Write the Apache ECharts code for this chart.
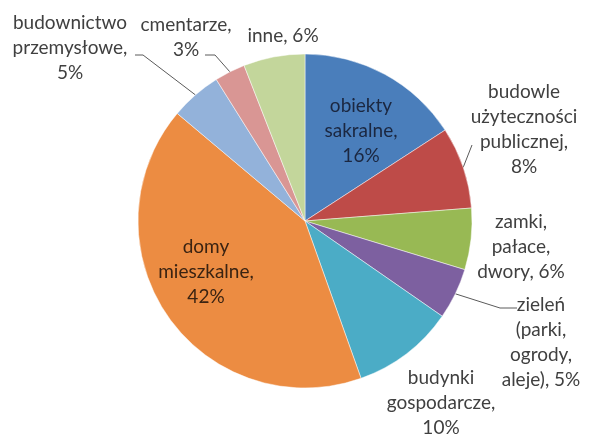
<!DOCTYPE html>
<html>
<head>
<meta charset="utf-8">
<script src="https://cdn.jsdelivr.net/npm/echarts@6/dist/echarts.min.js"></script>
<style>
  html, body { margin: 0; padding: 0; background: #ffffff; }
  #chart { width: 589px; height: 436px; }
</style>
</head>
<body>
<div id="chart"></div>
<script>
// Structure of monuments by type (share in %)
const categories = [
  'obiekty\nsakralne',
  'budowle\nużyteczności\npublicznej',
  'zamki,\npałace,\ndwory',
  'zieleń\n(parki,\nogrody,\naleje)',
  'budynki\ngospodarcze',
  'domy\nmieszkalne',
  'budownictwo\nprzemysłowe',
  'cmentarze',
  'inne'
];
const shares = [16, 8, 6, 5, 10, 42, 5, 3, 6];
// whether the percentage follows the name on its last line
const valueOnSameLine = [false, false, true, true, false, false, false, false, true];

const sliceColors = ['#4a7ebb', '#be4b48', '#98b954', '#7d60a0', '#4bacc6',
                     '#ec8c42', '#93b2da', '#d99694', '#c3d69b'];

// label block centres and leader-line bends (px)
const labelCenters = [
  [361, 131], [524, 129], [521, 247], [541, 342], [441, 403],
  [206, 272], [70, 48], [186, 37], [283, 36]
];
const leaderBends = [
  null,
  [[472, 145]],
  null,
  [[500, 308], [517, 308]],
  null,
  null,
  [[143, 55], [135, 55]],
  [[215, 55], [205, 55]],
  null
];
const insideLabels = [true, false, false, false, false, true, false, false, false];

const CENTER = [305, 221];
const RADIUS = 167;

const total = shares.reduce((a, b) => a + b, 0);
function edgePoint(i) {
  let before = 0;
  for (let k = 0; k < i; k++) before += shares[k];
  const mid = (before + shares[i] / 2) / total * Math.PI * 2;
  return [CENTER[0] + RADIUS * Math.sin(mid), CENTER[1] - RADIUS * Math.cos(mid)];
}

const chart = echarts.init(document.getElementById('chart'), null, { renderer: 'canvas' });

const data = categories.map((name, i) => ({
  name: name,
  value: shares[i],
  itemStyle: { color: sliceColors[i] },
  label: {
    color: insideLabels[i] ? (i === 0 ? '#1b2740' : '#3a2312') : '#404040'
  },
  labelLine: { show: !!leaderBends[i] }
}));

chart.setOption({
  animation: false,
  series: [{
    type: 'pie',
    center: CENTER,
    radius: RADIUS,
    startAngle: 90,
    clockwise: true,
    avoidLabelOverlap: false,
    data: data,
    itemStyle: { borderColor: 'rgba(255,255,255,0.6)', borderWidth: 0.8 },
    label: {
      show: true,
      position: 'outside',
      fontFamily: 'Lato',
      fontSize: 19,
      lineHeight: 25,
      overflow: 'none',
      formatter: function (p) {
        const i = p.dataIndex;
        return p.name + ',' + (valueOnSameLine[i] ? ' ' : '\n') + p.value + '%';
      }
    },
    labelLine: {
      show: true,
      length: 10,
      length2: 10,
      lineStyle: { color: '#5a5a5a', width: 1 }
    },
    labelLayout: function (params) {
      const i = params.dataIndex;
      const c = labelCenters[i];
      const out = { x: c[0], y: c[1], align: 'center', verticalAlign: 'middle', hideOverlap: false };
      if (leaderBends[i]) {
        const start = (params.labelLinePoints && params.labelLinePoints[0]) || edgePoint(i);
        out.labelLinePoints = [start].concat(leaderBends[i]);
      }
      return out;
    }
  }]
});
</script>
</body>
</html>
